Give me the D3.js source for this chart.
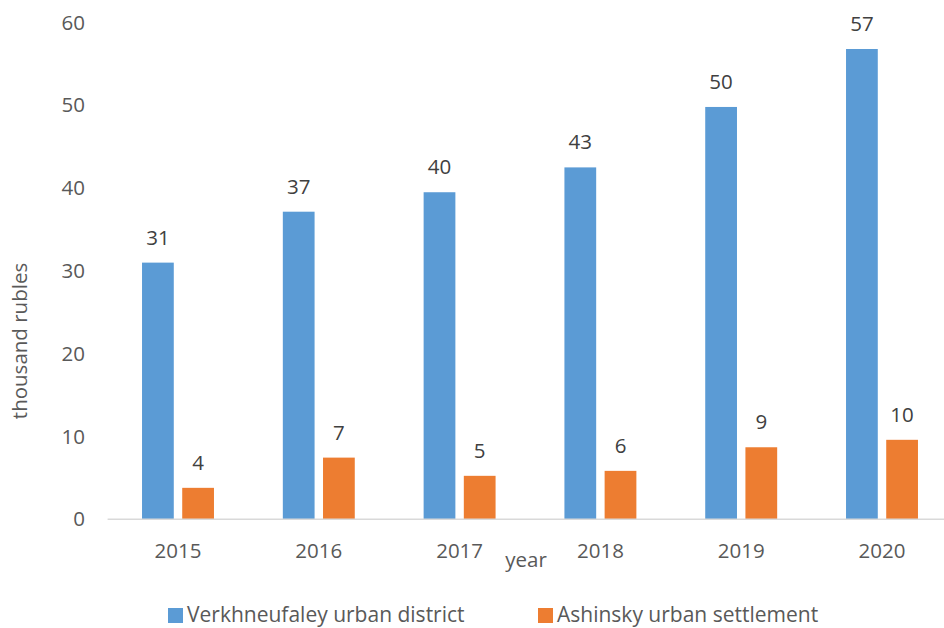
<!DOCTYPE html>
<html>
<head>
<meta charset="utf-8">
<script src="https://cdn.jsdelivr.net/npm/d3@7"></script>
<style>
  body { margin: 0; background: #fff; }
  text { font-family: "Open Sans", sans-serif; }
</style>
</head>
<body>
<div id="chart"></div>
<script>
// data
const years = ["2015", "2016", "2017", "2018", "2019", "2020"];
const seriesNames = ["Verkhneufaley urban district", "Ashinsky urban settlement"];
const verkhValues = [31.0, 37.15, 39.5, 42.5, 49.8, 56.8];
const ashaValues = [3.8, 7.45, 5.25, 5.85, 8.7, 9.6];
const verkhLabels = ["31", "37", "40", "43", "50", "57"];
const ashaLabels = ["4", "7", "5", "6", "9", "10"];
const yTicks = [0, 10, 20, 30, 40, 50, 60];
const colors = ["#5B9BD5", "#ED7D31"];

const W = 944, H = 628;
const fs = "20.5px";

const svg = d3.select("#chart").append("svg")
  .attr("width", W)
  .attr("height", H);

svg.append("rect").attr("width", W).attr("height", H).attr("fill", "#fff");

// scales
const yScale = d3.scaleLinear().domain([0, 60]).range([519.3, 22.5]);

const x0 = d3.scaleBand()
  .domain(years)
  .range([107.6, 952.4])
  .paddingInner(0.489)
  .paddingOuter(0.2445);

const x1 = d3.scaleBand()
  .domain([0, 1])
  .range([0, x0.bandwidth()])
  .paddingInner(0.21);

const rows = years.map((y, i) => ({
  year: y,
  vals: [
    { s: 0, v: verkhValues[i], lab: verkhLabels[i] },
    { s: 1, v: ashaValues[i], lab: ashaLabels[i] }
  ]
}));

// y tick labels (no axis line, no gridlines)
svg.append("g").selectAll("text")
  .data(yTicks)
  .enter().append("text")
    .attr("x", 85)
    .attr("y", d => yScale(d))
    .attr("dy", "0.35em")
    .attr("text-anchor", "end")
    .style("font-size", fs)
    .style("fill", "#595959")
    .text(d => d);

// bars
const groups = svg.append("g").selectAll("g")
  .data(rows)
  .enter().append("g")
    .attr("transform", d => `translate(${x0(d.year)},0)`);

groups.selectAll("rect")
  .data(d => d.vals)
  .enter().append("rect")
    .attr("x", d => x1(d.s))
    .attr("width", x1.bandwidth())
    .attr("y", d => yScale(d.v))
    .attr("height", d => yScale(0) - yScale(d.v))
    .attr("fill", d => colors[d.s]);

groups.selectAll("text")
  .data(d => d.vals)
  .enter().append("text")
    .attr("x", d => x1(d.s) + x1.bandwidth() / 2)
    .attr("y", d => yScale(d.v) - 18)
    .attr("text-anchor", "middle")
    .style("font-size", fs)
    .style("fill", "#404040")
    .text(d => d.lab);

// x axis
const xAxis = d3.axisBottom(x0).tickSize(0).tickPadding(0);
const xg = svg.append("g")
  .attr("transform", `translate(0,${yScale(0)})`)
  .call(xAxis);
xg.select(".domain").remove();
xg.append("line")
  .attr("x1", 107.6).attr("x2", W)
  .attr("y1", 0).attr("y2", 0)
  .attr("stroke", "#d9d9d9")
  .attr("stroke-width", 1.5);
xg.selectAll(".tick text")
  .attr("y", 38.5)
  .attr("dy", null)
  .style("font-size", fs)
  .style("font-family", "'Open Sans', sans-serif")
  .style("fill", "#595959");

// axis titles
svg.append("text")
  .attr("x", 526)
  .attr("y", 567)
  .attr("text-anchor", "middle")
  .style("font-size", fs)
  .style("fill", "#595959")
  .text("year");

svg.append("text")
  .attr("transform", "translate(27,341) rotate(-90)")
  .attr("text-anchor", "middle")
  .style("font-size", fs)
  .style("fill", "#595959")
  .text("thousand rubles");

// legend
const legendX = [168, 538];
const legend = svg.append("g").selectAll("g")
  .data(seriesNames)
  .enter().append("g")
    .attr("transform", (d, i) => `translate(${legendX[i]},622)`);

legend.append("rect")
  .attr("x", 0).attr("y", -14)
  .attr("width", 15).attr("height", 15)
  .attr("fill", (d, i) => colors[i]);

legend.append("text")
  .attr("x", 19)
  .attr("y", 0)
  .style("font-size", "21px")
  .style("fill", "#595959")
  .text(d => d);
</script>
</body>
</html>
